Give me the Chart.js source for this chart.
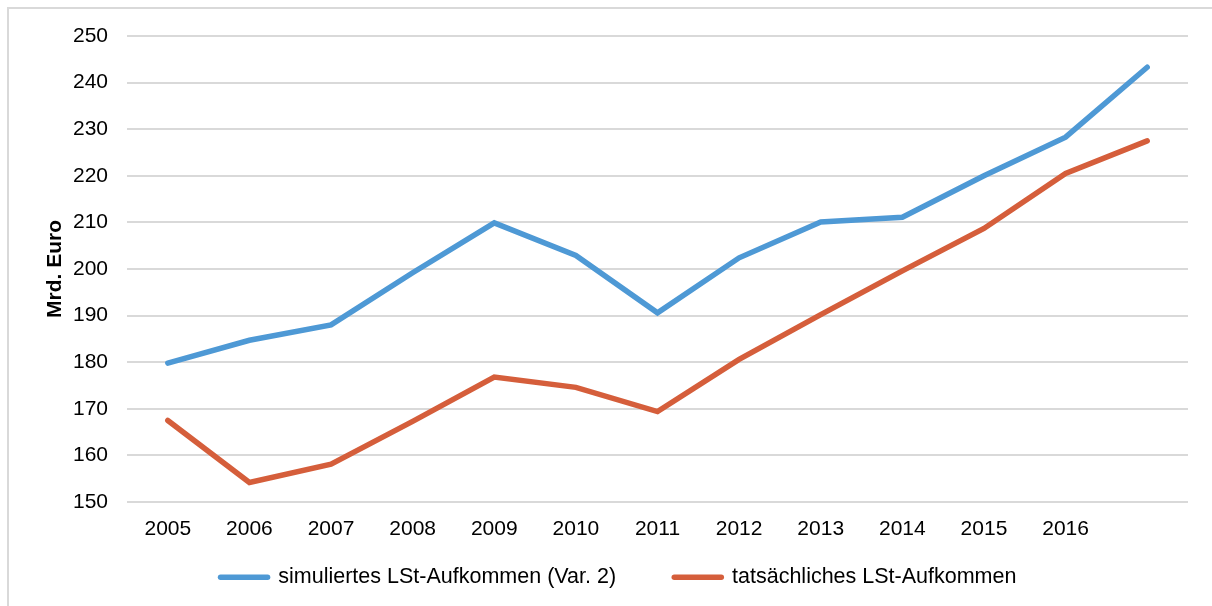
<!DOCTYPE html>
<html><head><meta charset="utf-8">
<script src="https://cdn.jsdelivr.net/npm/chart.js@4/dist/chart.umd.min.js"></script>
<style>
html,body{margin:0;padding:0;background:#fff;overflow:hidden;width:1212px;height:606px;}
#frame{position:absolute;left:7px;top:7px;width:1205px;height:599px;border-top:2px solid #d9d9d9;border-left:2px solid #d9d9d9;box-sizing:border-box;}
canvas{position:absolute;left:0;top:0;}
</style></head><body>
<div id="frame"></div>
<canvas id="c" width="1212" height="606"></canvas>
<script>
const years = ['2005','2006','2007','2008','2009','2010','2011','2012','2013','2014','2015','2016',''];
const simuliert = [179.8, 184.7, 188.0, 199.2, 209.9, 202.9, 190.6, 202.4, 210.1, 211.1, 220.0, 228.3, 243.3];
const tatsaechlich = [167.5, 154.2, 158.1, 167.3, 176.8, 174.6, 169.4, 180.6, 190.2, 199.6, 208.7, 220.5, 227.5];
const seriesNames = ['simuliertes LSt-Aufkommen (Var. 2)', 'tatsächliches LSt-Aufkommen'];
const yTitle = 'Mrd. Euro';
const yMin = 150, yMax = 250, yStep = 10;

const FONT = '"Liberation Sans", Arial, sans-serif';
Chart.defaults.font.family = FONT;
Chart.defaults.color = '#000';

const PAD = { left: 49, right: 24, top: 36, bottom: 8 };
const PLOT_BOTTOM = 502;

new Chart(document.getElementById('c'), {
  type: 'line',
  data: {
    labels: years,
    datasets: [
      { label: seriesNames[0], data: simuliert, borderColor: '#4E99D5', backgroundColor: '#4E99D5',
        borderWidth: 5.5, pointRadius: 0, tension: 0, borderCapStyle: 'round', fill: false },
      { label: seriesNames[1], data: tatsaechlich, borderColor: '#D55E3B', backgroundColor: '#D55E3B',
        borderWidth: 5.5, pointRadius: 0, tension: 0, borderCapStyle: 'round', fill: false }
    ]
  },
  options: {
    responsive: false,
    animation: false,
    layout: { padding: PAD },
    plugins: {
      tooltip: { enabled: false },
      legend: {
        position: 'bottom',
        labels: {
          font: { size: 21.5 }, color: '#000',
          usePointStyle: true, pointStyle: 'line', pointStyleWidth: 47,
          padding: 58.25,
          generateLabels: (chart) => Chart.defaults.plugins.legend.labels.generateLabels(chart)
            .map(l => Object.assign(l, { lineCap: 'round', lineWidth: 5.5 }))
        }
      }
    },
    scales: {
      x: {
        offset: true,
        grid: { display: false, drawTicks: false },
        border: { display: false },
        ticks: { font: { size: 21 }, color: '#000', padding: 14.5, autoSkip: false, maxRotation: 0 },
        afterFit: (s) => {
          s._computeLabelArea = () => undefined;
          const lg = s.chart.legend;
          s.height = 606 - PAD.bottom - (lg ? lg.height : 0) - PLOT_BOTTOM;
        }
      },
      y: {
        min: yMin, max: yMax,
        grid: { color: '#d9d9d9', lineWidth: 2, drawTicks: false },
        border: { display: false },
        ticks: { stepSize: yStep, font: { size: 21 }, color: '#000', padding: 19 },
        title: { display: true, text: yTitle, font: { size: 21, weight: 'bold' }, color: '#000', padding: { top: -6, bottom: 0 } },
        afterFit: (s) => { s.width = 127 - PAD.left; }
      }
    }
  }
});
</script>
</body></html>
